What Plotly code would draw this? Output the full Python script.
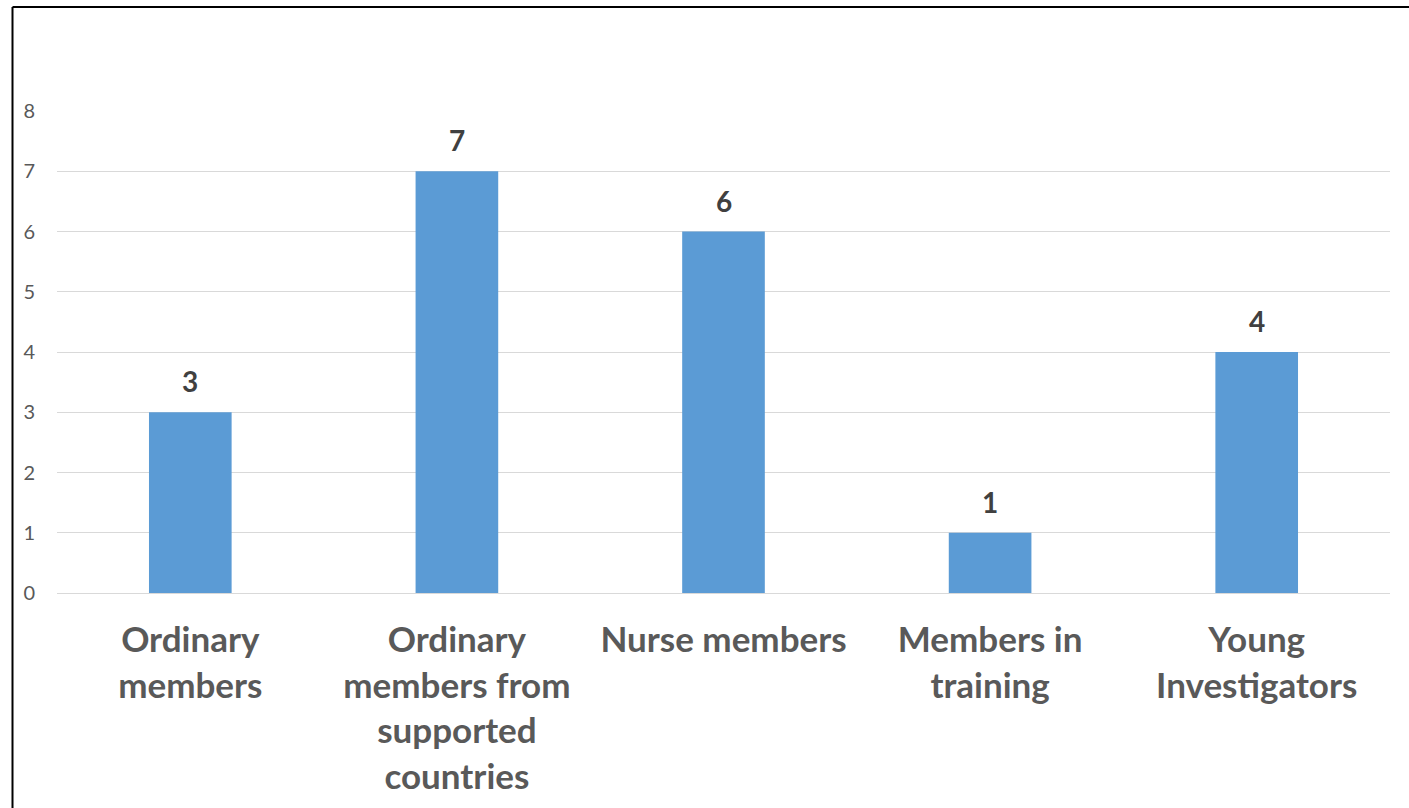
import plotly.graph_objects as go

categories = ["Ordinary<br>members", "Ordinary<br>members from<br>supported<br>countries",
              "Nurse members", "Members in<br>training", "Young<br>Investigators"]
values = [3, 7, 6, 1, 4]
y_ticks = [0, 1, 2, 3, 4, 5, 6, 7, 8]

W, H = 1409, 808
ml, mr, mt, mb = 57, 19, 111, 213
pw, ph = W - ml - mr, H - mt - mb

fig = go.Figure()
fig.add_trace(go.Bar(x=categories, y=values, marker=dict(color="#5B9BD5", line=dict(width=0)),
                     width=0.31, showlegend=False, hoverinfo="skip"))

for c, v in zip(categories, values):
    fig.add_annotation(x=c, y=v, text="<b>%d</b>" % v, showarrow=False, yanchor="bottom",
                       yshift=12, font=dict(family="Lato", size=28, color="#404040"))

def px_to_paper_x(px):
    return (px - ml) / pw

def px_to_paper_y(py):
    return (H - mb - py) / ph

frame = dict(color="black", width=2)
fig.add_shape(type="line", xref="paper", yref="paper",
              x0=px_to_paper_x(12.5), x1=px_to_paper_x(12.5),
              y0=px_to_paper_y(6.5), y1=px_to_paper_y(H + 5), line=frame)
fig.add_shape(type="line", xref="paper", yref="paper",
              x0=px_to_paper_x(12.5), x1=px_to_paper_x(W + 5),
              y0=px_to_paper_y(6.5), y1=px_to_paper_y(6.5), line=frame)

fig.update_layout(
    width=W, height=H,
    margin=dict(l=ml, r=mr, t=mt, b=mb),
    plot_bgcolor="white", paper_bgcolor="white",
    font=dict(family="Lato", color="#595959"),
    xaxis=dict(showgrid=False, showline=False, zeroline=False, ticks="",
               tickfont=dict(family="Lato", size=35, color="#595959", weight="bold"),
               ticklabelstandoff=23, tickangle=0),
    yaxis=dict(range=[0, 8], tickvals=y_ticks, showgrid=True, gridcolor="#D9D9D9", gridwidth=1,
               zeroline=True, zerolinecolor="#D9D9D9", zerolinewidth=1, showline=False,
               tickfont=dict(family="Lato", size=20, color="#595959"), ticklabelstandoff=21),
)

fig.write_html("out.html", config={"displayModeBar": False},
               post_script="document.body.style.margin='0';document.body.style.overflow='hidden';")
